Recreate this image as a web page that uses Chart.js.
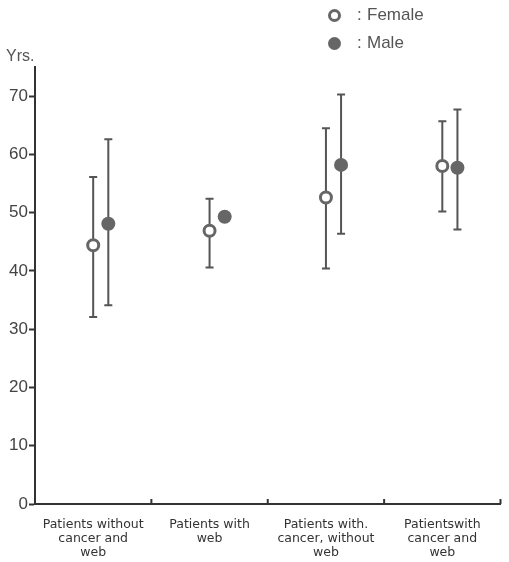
<!DOCTYPE html>
<html>
<head>
<meta charset="utf-8">
<script src="https://cdn.jsdelivr.net/npm/chart.js@4.4.1/dist/chart.umd.min.js"></script>
<style>
  html, body { margin: 0; padding: 0; background: #fff; }
  #wrap { position: relative; width: 509px; height: 562px; }
  #legend { position: absolute; left: 328px; top: 1px; font-family: "Liberation Sans", Arial, sans-serif; font-size: 17px; color: #555; }
  #legend .row { height: 28px; display: flex; align-items: center; }
  #legend .mk { width: 13px; height: 13px; border-radius: 50%; box-sizing: border-box; margin-right: 16px; }
  #legend .sep { width: 10px; }
  #yrs { position: absolute; left: 6px; top: 47px; font-family: "Liberation Sans", Arial, sans-serif; font-size: 16px; color: #555; }
</style>
</head>
<body>
<div id="wrap">
  <canvas id="chart" width="509" height="562"></canvas>
  <div id="legend">
    <div class="row"><span class="mk" style="border:3px solid #666;background:#fff"></span><span class="sep">:</span><span>Female</span></div>
    <div class="row"><span class="mk" style="background:#666"></span><span class="sep">:</span><span>Male</span></div>
  </div>
  <div id="yrs">Yrs.</div>
</div>
<script>
// categories along the bottom
const categories = [
    ["Patients without", "cancer and", "web"],
    ["Patients with", "web"],
    ["Patients with.", "cancer, without", "web"],
    ["Patientswith", "cancer and", "web"]
];

// age (years), mean with range
const femaleMean = [44.4, 46.9, 52.6, 58.0];
const femaleLow = [32.1, 40.6, 40.4, 50.2];
const femaleHigh = [56.1, 52.4, 64.5, 65.7];

const maleMean = [48.1, 49.3, 58.2, 57.7];
const maleLow = [34.1, null, 46.4, 47.1];
const maleHigh = [62.6, null, 70.3, 67.7];

const yTicks = [0, 10, 20, 30, 40, 50, 60, 70];

// male marker sits a little to the right of the female one
const maleShift = 0.13;

const femalePoints = femaleMean.map((v, i) => ({ x: i + 0.5, y: v, lo: femaleLow[i], hi: femaleHigh[i] }));
const malePoints = maleMean.map((v, i) => ({ x: i + 0.5 + maleShift, y: v, lo: maleLow[i], hi: maleHigh[i] }));

const errorBars = {
    id: 'errorBars',
    beforeDatasetsDraw(chart) {
        const ctx = chart.ctx;
        const xs = chart.scales.x, ys = chart.scales.y;
        ctx.save();
        ctx.strokeStyle = '#555';
        ctx.lineWidth = 2;
        chart.data.datasets.forEach(ds => {
            ds.data.forEach(p => {
                if (p.lo == null || p.hi == null) return;
                const x = xs.getPixelForValue(p.x);
                const yl = ys.getPixelForValue(p.lo);
                const yh = ys.getPixelForValue(p.hi);
                ctx.beginPath();
                ctx.moveTo(x, yl); ctx.lineTo(x, yh);
                ctx.moveTo(x - 4, yl); ctx.lineTo(x + 4, yl);
                ctx.moveTo(x - 4, yh); ctx.lineTo(x + 4, yh);
                ctx.stroke();
            });
        });
        ctx.restore();
    }
};

// small marks between the groups, pointing up from the x axis
const dividers = {
    id: 'dividers',
    afterDraw(chart) {
        const ctx = chart.ctx;
        const xs = chart.scales.x;
        const bottom = chart.chartArea.bottom;
        ctx.save();
        ctx.strokeStyle = '#333';
        ctx.lineWidth = 2;
        for (let i = 1; i <= categories.length; i++) {
            const x = xs.getPixelForValue(i);
            ctx.beginPath();
            ctx.moveTo(x, bottom);
            ctx.lineTo(x, bottom - 5);
            ctx.stroke();
        }
        ctx.restore();
    }
};

new Chart(document.getElementById('chart'), {
    type: 'scatter',
    data: {
        datasets: [
            {
                label: 'Female',
                data: femalePoints,
                pointStyle: 'circle',
                pointRadius: 5.5,
                pointBorderWidth: 3,
                pointBorderColor: '#666',
                pointBackgroundColor: '#fff',
            },
            {
                label: 'Male',
                data: malePoints,
                pointStyle: 'circle',
                pointRadius: 7,
                pointBorderWidth: 0,
                pointBackgroundColor: '#666',
            }
        ]
    },
    options: {
        responsive: false,
        animation: false,
        layout: { padding: { top: 67, right: 4, left: 0, bottom: 0 } },
        plugins: {
            legend: { display: false },
            tooltip: { enabled: false }
        },
        scales: {
            x: {
                type: 'linear',
                min: 0,
                max: categories.length,
                afterBuildTicks: (scale) => {
                    scale.ticks = categories.map((c, i) => ({ value: i + 0.5 }));
                },
                afterFit: (scale) => { scale.height = 58; },
                grid: { display: false },
                border: { display: true, color: '#333', width: 2 },
                ticks: {
                    padding: 6,
                    color: '#333',
                    font: { family: "'DejaVu Sans', sans-serif", size: 12.5, lineHeight: 1.12 },
                    maxRotation: 0,
                    callback: (value) => categories[Math.floor(value)]
                }
            },
            y: {
                min: 0,
                max: 75,
                afterBuildTicks: (scale) => {
                    scale.ticks = yTicks.map(v => ({ value: v }));
                },
                afterFit: (scale) => { scale.width = 35; },
                grid: { drawOnChartArea: false, tickLength: 6, tickWidth: 2, color: '#333' },
                border: { display: true, color: '#333', width: 2 },
                ticks: {
                    padding: 1,
                    color: '#444',
                    font: { family: "'Liberation Sans', Arial, sans-serif", size: 17 },
                    callback: (v) => v
                }
            }
        }
    },
    plugins: [errorBars, dividers]
});
</script>
</body>
</html>
